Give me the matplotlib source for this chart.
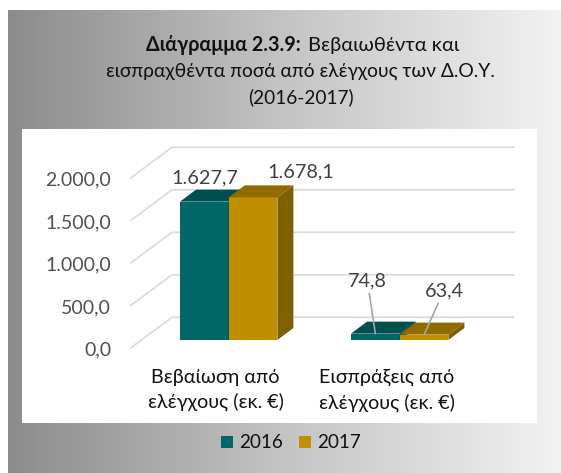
import numpy as np
import matplotlib
matplotlib.use("Agg")
import matplotlib.pyplot as plt
from matplotlib.patches import Polygon, Patch
from matplotlib.colors import LinearSegmentedColormap

plt.rcParams['font.family'] = ['Lato', 'Open Sans', 'DejaVu Sans']

categories = ["Βεβαίωση από\nελέγχους (εκ. €)", "Εισπράξεις από\nελέγχους (εκ. €)"]
series_names = ["2016", "2017"]
values_2016 = [1627.7, 74.8]
values_2017 = [1678.1, 63.4]
tick_values = [0, 500, 1000, 1500, 2000]
tick_labels = ["0,0", "500,0", "1.000,0", "1.500,0", "2.000,0"]
label_2016 = ["1.627,7", "74,8"]
label_2017 = ["1.678,1", "63,4"]

W, H = 561, 473
fig = plt.figure(figsize=(W / 100, H / 100), dpi=100, facecolor="white")

def rect(x0, y0, x1, y1):
    return [x0 / W, 1 - y1 / H, (x1 - x0) / W, (y1 - y0) / H]

bg = fig.add_axes(rect(8, 10, 561, 473), zorder=0)
cmap = LinearSegmentedColormap.from_list("g", ["#8c8c8c", "#c4c4c4", "#f2f2f2"])
bg.imshow(np.linspace(0, 1, 256)[None, :], aspect="auto", cmap=cmap)
bg.axis("off")
panel = fig.add_axes(rect(22, 129, 537, 422.7), zorder=1, facecolor="white")
panel.set_xticks([]); panel.set_yticks([])
for s in panel.spines.values():
    s.set_visible(False)

# plot axes: 0.085 px per value unit, 171 px per category
px_v, px_c = 0.085, 171.0
left, right, top, bottom = 130, 515, 135, 352
ax = fig.add_axes(rect(left, top, right, bottom), zorder=2)
ax.patch.set_alpha(0)
x0c, y0v = 228.7, 340.0
ax.set_xlim((left - x0c) / px_c, (right - x0c) / px_c)
ax.set_ylim((y0v - bottom) / px_v, (y0v - top) / px_v)
for s in ax.spines.values():
    s.set_visible(False)

# depth of the 3D floor and of the bars, in data units
floor_front = -8.5 / px_v
floor_back = 22.7 / px_v
floor_dx = 42 / px_c
bar_dx, bar_dy = 16 / px_c, 12 / px_v
bw = 48.7 / px_c
xlim = ax.get_xlim()
for v in tick_values:
    ax.plot([xlim[0], xlim[0] + floor_dx, xlim[1]],
            [v + floor_front, v + floor_back, v + floor_back],
            color="#dcdcdc", lw=1.3, zorder=1, solid_capstyle="butt")

ax.set_yticks([v + floor_front for v in tick_values], tick_labels)
ax.tick_params(axis="y", length=0, pad=13.5, labelsize=14.0, labelcolor="#505050")
ax.set_xticks([i - 13 / px_c for i in range(2)], categories)
ax.tick_params(axis="x", length=0, pad=12.1, labelsize=14.2, labelcolor="#111111")
for t in ax.get_xticklabels():
    t.set_linespacing(1.47)

def bar3d(x, w, v, front, top_c, side, z):
    ax.bar(x, v, w, align="edge", color=front, zorder=z)
    ax.add_patch(Polygon([(x, v), (x + w, v), (x + w + bar_dx, v + bar_dy), (x + bar_dx, v + bar_dy)],
                         closed=True, fc=top_c, ec="none", zorder=z))
    ax.add_patch(Polygon([(x + w, 0), (x + w + bar_dx, bar_dy), (x + w + bar_dx, v + bar_dy), (x + w, v)],
                         closed=True, fc=side, ec="none", zorder=z))

for i in range(2):
    bar3d(i - bw, bw, values_2016[i], "#006666", "#004f4f", "#004040", 3)
    bar3d(i, bw, values_2017[i], "#BF8F00", "#8F6B00", "#7F6000", 4)

def lab(x, v, txt, dx, dy, leader=False):
    ax.annotate(txt, xy=(x, v), xytext=(dx * .72, dy * .72), textcoords="offset points",
                ha="center", va="center", fontsize=14.3, color="#404040", zorder=6,
                arrowprops=dict(arrowstyle="-", color="#a6a6a6", lw=1.2, shrinkA=1, shrinkB=0) if leader else None)

lab(-bw / 2, values_2016[0], label_2016[0], 0, 24)
lab(bw / 2, values_2017[0], label_2017[0], 48, 25)
lab(1 - bw / 2, values_2016[1], label_2016[1], -8, 53, True)
lab(1 + bw / 2, values_2017[1], label_2017[1], 20, 44, True)

tc = "#111111"
fig.text(301 / W, 1 - 45 / H, "Διάγραμμα 2.3.9:", fontsize=14.2, fontweight="bold", ha="right", va="center", color=tc, zorder=5)
fig.text(308 / W, 1 - 45 / H, "Βεβαιωθέντα και", fontsize=14.5, ha="left", va="center", color=tc, zorder=5)
fig.text(300 / W, 1 - 71.7 / H, "εισπραχθέντα ποσά από ελέγχους των Δ.Ο.Υ.", fontsize=13.9, ha="center", va="center", color=tc, zorder=5)
fig.text(300.5 / W, 1 - 97.3 / H, "(2016-2017)", fontsize=13.7, ha="center", va="center", color=tc, zorder=5)

handles = [Patch(fc="#006666", label=series_names[0]), Patch(fc="#BF8F00", label=series_names[1])]
leg = fig.legend(handles=handles, loc="center", bbox_to_anchor=(291 / W, 1 - 443 / H), ncol=2, frameon=False,
                 fontsize=13.6, handlelength=0.64, handleheight=0.64, handletextpad=0.3, columnspacing=0.88,
                 labelcolor="#111111", borderpad=0)
leg.set_zorder(5)
fig.savefig("out.png", dpi=100, facecolor="white")
